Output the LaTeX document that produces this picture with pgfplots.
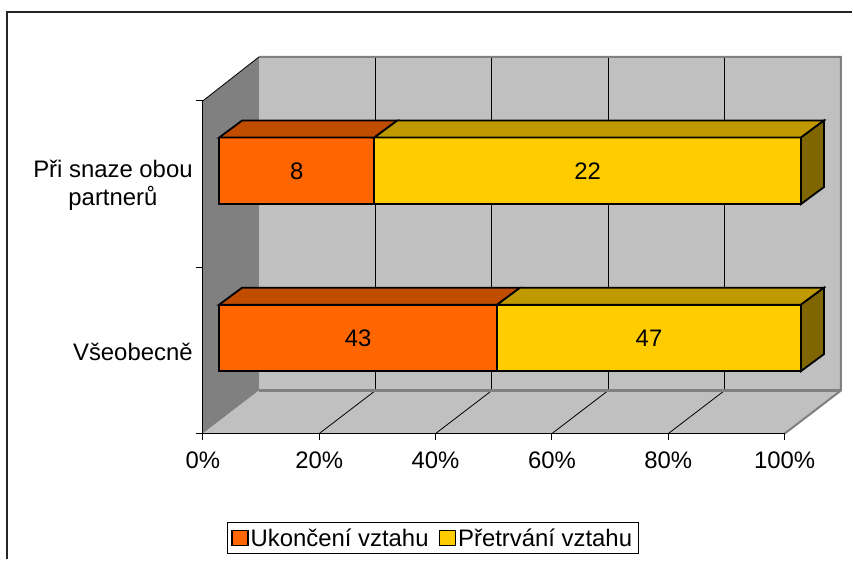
\documentclass[border=0pt]{standalone}
\usepackage{pgfplots}
\pgfplotsset{compat=1.18}
\usepackage{fontspec}
\setmainfont{Liberation Sans}
\definecolor{orangeF}{HTML}{FF6600}
\definecolor{orangeT}{HTML}{C04C00}
\definecolor{yellowF}{HTML}{FFCC00}
\definecolor{yellowT}{HTML}{C09900}
\definecolor{yellowS}{HTML}{806600}
\definecolor{wallD}{HTML}{808080}
\definecolor{wallL}{HTML}{C0C0C0}
\begin{document}
\begin{tikzpicture}
\begin{axis}[
  hide axis, scale only axis,
  width=853bp, height=560bp,
  xmin=-37.654, xmax=108.808, ymin=0, ymax=560,
  clip=false,
  legend columns=2,
  legend style={at={(axis cs:36.69,21.3)}, anchor=center, draw=black, line width=0.9bp,
    font=\fontsize{24}{27}\selectfont, inner xsep=4bp, inner ysep=2bp,
    nodes={inner xsep=2bp, inner ysep=4bp},
    /tikz/every even column/.append style={column sep=8bp}},
  legend image code/.code={\draw[#1, draw=black, line width=1.6bp] (0bp,-7.5bp) rectangle (16bp,7.5bp);},
]
% background and frame
\fill[white] (rel axis cs:0,0) rectangle (rel axis cs:1,1);
\draw[black!85, line width=1.6bp] (axis cs:-36.45,0) -- (axis cs:-36.45,548) -- (axis cs:108.808,548);
% walls and floor
\fill[wallD] (axis cs:-2.8,126) -- (axis cs:-2.8,459) -- (axis cs:6.852,503) -- (axis cs:6.852,169) -- cycle;
\fill[wallL] (axis cs:6.852,169) rectangle (axis cs:106.85,503);
\fill[wallL] (axis cs:-2.8,126) -- (axis cs:97.2,126) -- (axis cs:106.85,169) -- (axis cs:6.852,169) -- cycle;
% gridlines
\pgfplotsinvokeforeach{20,40,60,80}{
  \draw[black, line width=0.8bp] (axis cs:6.852+#1,169) -- (axis cs:6.852+#1,503);
  \draw[black, line width=0.8bp] (axis cs:-2.8+#1,126) -- (axis cs:6.852+#1,169);
}
% wall edges
\draw[wallD, line width=2bp] (axis cs:6.852,503) -- (axis cs:106.85,503) -- (axis cs:106.85,169) -- (axis cs:97.2,126);
\draw[wallD, line width=2.5bp] (axis cs:6.852,169) -- (axis cs:106.85,169);
\draw[black, line width=0.8bp] (axis cs:-2.8,459) -- (axis cs:6.852,503);
% axes
\draw[black, line width=1bp] (axis cs:-2.8,459) -- (axis cs:-2.8,126) -- (axis cs:97.2,126);
\pgfplotsinvokeforeach{0,20,40,60,80,100}{
  \draw[black, line width=1bp] (axis cs:-2.8+#1,126) -- (axis cs:-2.8+#1,120);
}
\pgfplotsinvokeforeach{459,292,126}{
  \draw[black, line width=1bp] (axis cs:-2.8,#1) -- (axis cs:-4.0,#1);
}
% ---- bars: front faces (data: percent of row total) ----
% Při snaze obou partnerů: 8 / 22  -> 26.667 / 73.333
% Všeobecně: 43 / 47 -> 47.778 / 52.222
\addplot[fill=orangeF, draw=black, line width=1.8bp] coordinates {(0,355.7) (26.667,355.7) (26.667,422.3) (0,422.3)} -- cycle;
\addlegendentry{Ukončení vztahu}
\addplot[fill=yellowF, draw=black, line width=1.8bp] coordinates {(26.667,355.7) (100,355.7) (100,422.3) (26.667,422.3)} -- cycle;
\addlegendentry{Přetrvání vztahu}
\addplot[forget plot, fill=orangeF, draw=black, line width=1.8bp] coordinates {(0,188.5) (47.778,188.5) (47.778,255) (0,255)} -- cycle;
\addplot[forget plot, fill=yellowF, draw=black, line width=1.8bp] coordinates {(47.778,188.5) (100,188.5) (100,255) (47.778,255)} -- cycle;
% top faces
\addplot[forget plot, fill=orangeT, draw=black, line width=1.8bp] coordinates {(0,422.3) (26.667,422.3) (30.616,439.3) (3.949,439.3)} -- cycle;
\addplot[forget plot, fill=yellowT, draw=black, line width=1.8bp] coordinates {(26.667,422.3) (100,422.3) (103.949,439.3) (30.616,439.3)} -- cycle;
\addplot[forget plot, fill=orangeT, draw=black, line width=1.8bp] coordinates {(0,255) (47.778,255) (51.727,272) (3.949,272)} -- cycle;
\addplot[forget plot, fill=yellowT, draw=black, line width=1.8bp] coordinates {(47.778,255) (100,255) (103.949,272) (51.727,272)} -- cycle;
% side faces
\addplot[forget plot, fill=yellowS, draw=black, line width=1.8bp] coordinates {(100,355.7) (103.949,372.7) (103.949,439.3) (100,422.3)} -- cycle;
\addplot[forget plot, fill=yellowS, draw=black, line width=1.8bp] coordinates {(100,188.5) (103.949,205.5) (103.949,272) (100,255)} -- cycle;
% value labels
\node[font=\fontsize{24}{27}\selectfont] at (axis cs:13.333,389) {8};
\node[font=\fontsize{24}{27}\selectfont] at (axis cs:63.333,389) {22};
\node[font=\fontsize{24}{27}\selectfont] at (axis cs:23.889,221.75) {43};
\node[font=\fontsize{24}{27}\selectfont] at (axis cs:73.889,221.75) {47};
% category labels
\node[anchor=east, align=center, inner sep=0pt, font=\fontsize{24}{28}\selectfont] at (axis cs:-4.516,374.5) {Při snaze obou\\partnerů};
\node[anchor=east, inner sep=0pt, font=\fontsize{24}{27}\selectfont] at (axis cs:-4.516,208) {Všeobecně};
% tick labels
\pgfplotsinvokeforeach{0,20,40,60,80,100}{
  \node[anchor=base, inner sep=0pt, font=\fontsize{24}{27}\selectfont] at (axis cs:-2.8+#1,91.3) {#1\%};
}
\end{axis}
\end{tikzpicture}
\end{document}
